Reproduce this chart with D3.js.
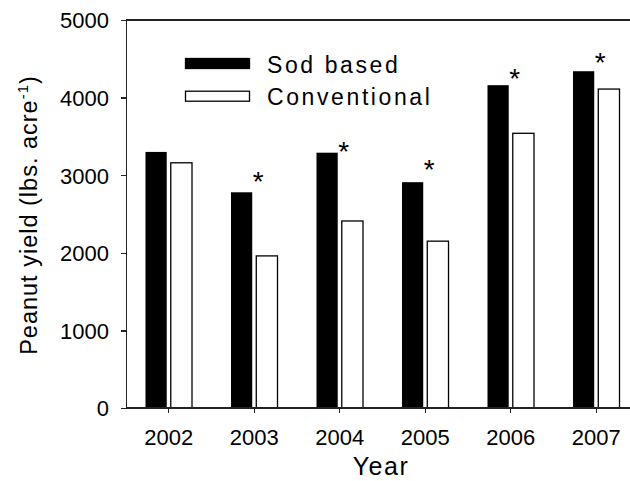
<!DOCTYPE html>
<meta charset="utf-8">
<style>
body { margin: 0; background: #fff; }
svg text { font-family: "Liberation Sans", Arial, sans-serif; fill: #000; }
.axis path, .axis line { stroke: #222; stroke-width: 1.3; shape-rendering: crispEdges; }
.axis text { font-size: 22px; }
.bar.sod { fill: #000; }
.bar.conv { fill: #fff; stroke: #000; stroke-width: 1.3; }
</style>
<body>
<div id="chart"></div>
<script src="https://d3js.org/d3.v7.min.js"></script>
<script>

// data
var years = [2002, 2003, 2004, 2005, 2006, 2007];
var sodBased = [3300, 2780, 3290, 2910, 4160, 4340];
var conventional = [3160, 1960, 2410, 2150, 3540, 4110];
// significance markers (level of the asterisk, null = none)
var starLevel = [null, 3000, 3390, 3160, 4330, 4530];
var yTicks = [0, 1000, 2000, 3000, 4000, 5000];
var seriesNames = ["Sod based", "Conventional"];

var W = 630, H = 481;
var margin = {left: 126, top: 20, bottom: 73};
var plotRight = 639;

var svg = d3.select("#chart").append("svg")
    .attr("width", W)
    .attr("height", H);

var x = d3.scaleBand()
    .domain(years)
    .range([margin.left, plotRight])
    .paddingInner(0.456)
    .paddingOuter(0.228);

var xs = d3.scaleBand()
    .domain(["sod", "conv"])
    .range([0, x.bandwidth()])
    .paddingInner(0.16);

var y = d3.scaleLinear()
    .domain([0, 5000])
    .range([H - margin.bottom, margin.top]);

var rows = years.map(function(yr, i) {
  return {year: yr, sod: sodBased[i], conv: conventional[i], star: starLevel[i]};
});

// bars
var g = svg.selectAll(".grp")
    .data(rows)
    .enter().append("g")
    .attr("class", "grp")
    .attr("transform", function(d) { return "translate(" + x(d.year) + ",0)"; });

g.append("rect")
    .attr("class", "bar sod")
    .attr("x", xs("sod"))
    .attr("width", xs.bandwidth())
    .attr("y", function(d) { return y(d.sod); })
    .attr("height", function(d) { return y(0) - y(d.sod); });

g.append("rect")
    .attr("class", "bar conv")
    .attr("x", xs("conv"))
    .attr("width", xs.bandwidth())
    .attr("y", function(d) { return y(d.conv); })
    .attr("height", function(d) { return y(0) - y(d.conv); });

// asterisks
g.filter(function(d) { return d.star != null; }).append("text")
    .attr("x", x.bandwidth() / 2 + 4)
    .attr("y", function(d) { return y(d.star) + 16; })
    .attr("text-anchor", "middle")
    .style("font-size", "28px")
    .text("*");

// top frame line
svg.append("line")
    .attr("x1", margin.left).attr("x2", plotRight)
    .attr("y1", y(5000)).attr("y2", y(5000))
    .attr("stroke", "#222").attr("stroke-width", 1.3)
    .style("shape-rendering", "crispEdges");

// y axis
var yAxis = svg.append("g")
    .attr("class", "axis")
    .attr("transform", "translate(" + margin.left + ",0)")
    .call(d3.axisLeft(y).tickValues(yTicks).tickFormat(d3.format("d"))
      .tickSize(5).tickSizeOuter(0).tickPadding(12));
yAxis.selectAll("text").attr("dy", "0.36em");

// x axis
var xAxis = svg.append("g")
    .attr("class", "axis")
    .attr("transform", "translate(0," + y(0) + ")")
    .call(d3.axisBottom(x).tickSize(5).tickSizeOuter(0).tickPadding(0));
xAxis.select(".domain").attr("d", "M" + margin.left + ",0H" + plotRight);
xAxis.selectAll("text").attr("dy", null).attr("y", 37);

// axis titles
svg.append("text")
    .attr("x", 381)
    .attr("y", 475)
    .attr("text-anchor", "middle")
    .style("font-size", "25px")
    .style("letter-spacing", "1.5px")
    .text("Year");

var yl = svg.append("text")
    .attr("transform", "translate(37,215) rotate(-90)")
    .attr("text-anchor", "middle")
    .style("font-size", "23.5px")
    .style("letter-spacing", "1px");
yl.append("tspan").text("Peanut yield (lbs. acre");
yl.append("tspan").attr("dy", "-9").style("font-size", "15px").text("-1");
yl.append("tspan").attr("dy", "9").text(")");

// legend
var legend = svg.selectAll(".legend")
    .data(seriesNames)
    .enter().append("g")
    .attr("class", "legend")
    .attr("transform", function(d, i) { return "translate(185.5," + (58.5 + i * 32.7) + ")"; });

legend.append("rect")
    .attr("width", 64)
    .attr("height", 10)
    .attr("fill", function(d, i) { return i === 0 ? "#000" : "#fff"; })
    .attr("stroke", "#000")
    .attr("stroke-width", 1.3);

legend.append("text")
    .attr("x", 81.5)
    .attr("y", 14)
    .style("font-size", "23px")
    .style("letter-spacing", "2.6px")
    .text(function(d) { return d; });

</script>
</body>
